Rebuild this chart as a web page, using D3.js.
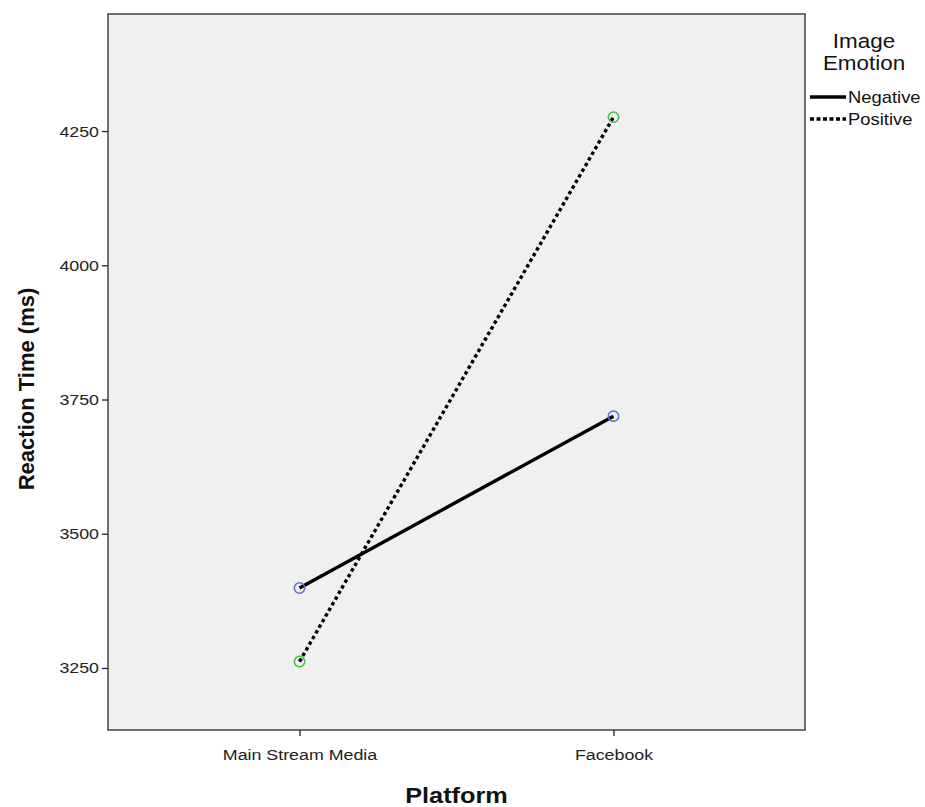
<!DOCTYPE html>
<html><head><meta charset="utf-8">
<script src="https://cdn.jsdelivr.net/npm/d3@7"></script>
<style>body{margin:0;background:#fff;} text{font-family:Arial,"Liberation Sans",sans-serif;}</style>
</head><body>
<svg id="c" width="925" height="807"></svg>
<script>
const categories = ["Main Stream Media", "Facebook"];
const seriesNames = ["Negative", "Positive"];
const negativeValues = [3399, 3719];
const positiveValues = [3262, 4276];
const yTicks = [3250, 3500, 3750, 4000, 4250];

const SX = 1.15; // horizontal text stretch seen in the reference
const svg = d3.select("#c");
const L = 108, R = 805, T = 14, B = 730;
const x = d3.scalePoint().domain(categories).range([L, R]).padding(0.61);
const y = d3.scaleLinear().domain([3134.5, 4468]).range([B, T]);

svg.append("rect").attr("x", L).attr("y", T).attr("width", R - L).attr("height", B - T)
  .attr("fill", "#f0f0f0").attr("stroke", "#444").attr("stroke-width", 1.5);

const yAxis = svg.append("g").attr("transform", `translate(${L},0)`)
  .call(d3.axisLeft(y).tickValues(yTicks).tickSize(6).tickPadding(3).tickFormat(d3.format("d")));
yAxis.select(".domain").remove();
yAxis.selectAll("line").attr("stroke", "#222").attr("stroke-width", 1.3);
yAxis.selectAll("text").attr("font-size", 15.5).attr("fill", "#222")
  .attr("x", -9 / SX).attr("transform", `scale(${SX},1)`);

const xAxis = svg.append("g").attr("transform", `translate(0,${B})`)
  .call(d3.axisBottom(x).tickSize(6).tickPadding(5));
xAxis.select(".domain").remove();
xAxis.selectAll("line").attr("stroke", "#222").attr("stroke-width", 1.3);
xAxis.selectAll("text").attr("font-size", 15.5).attr("fill", "#222")
  .attr("dy", null).attr("y", 30).attr("transform", `scale(${SX},1)`);

svg.append("text").attr("transform", `translate(${(L + R) / 2},803) scale(${SX},1)`).attr("text-anchor", "middle")
  .attr("font-size", 22).attr("font-weight", "bold").attr("fill", "#111").text("Platform");
svg.append("text").attr("transform", `translate(34,${(T + B) / 2 + 17}) rotate(-90)`).attr("text-anchor", "middle")
  .attr("font-size", 22).attr("font-weight", "bold").attr("fill", "#111").text("Reaction Time (ms)");

const series = [
  {name: seriesNames[0], values: negativeValues, dash: null, color: "#5a6ecf"},
  {name: seriesNames[1], values: positiveValues, dash: "3.5,3", color: "#3fbf3f"}
];
const line = d3.line().x((d, i) => x(categories[i])).y(d => y(d));
series.forEach(s => {
  svg.append("path").datum(s.values).attr("d", line).attr("fill", "none")
    .attr("stroke", "#000").attr("stroke-width", 3.4).attr("stroke-dasharray", s.dash);
  svg.selectAll(null).data(s.values).enter().append("circle")
    .attr("cx", (d, i) => x(categories[i])).attr("cy", d => y(d)).attr("r", 5.2)
    .attr("fill", "none").attr("stroke", s.color).attr("stroke-width", 1.5);
});

const lg = svg.append("g");
lg.append("text").attr("transform", `translate(864,48) scale(${SX},1)`).attr("text-anchor", "middle").attr("font-size", 19.5).attr("fill", "#111").text("Image");
lg.append("text").attr("transform", `translate(864,70) scale(${SX},1)`).attr("text-anchor", "middle").attr("font-size", 19.5).attr("fill", "#111").text("Emotion");
series.forEach((s, i) => {
  const yy = 97 + i * 22;
  lg.append("line").attr("x1", 810).attr("x2", 846).attr("y1", yy).attr("y2", yy)
    .attr("stroke", "#000").attr("stroke-width", 3.4).attr("stroke-dasharray", s.dash ? "4,2.5" : null);
  lg.append("text").attr("transform", `translate(848,${yy + 6}) scale(${SX},1)`).attr("font-size", 16).attr("fill", "#111").text(s.name);
});
</script>
</body></html>
